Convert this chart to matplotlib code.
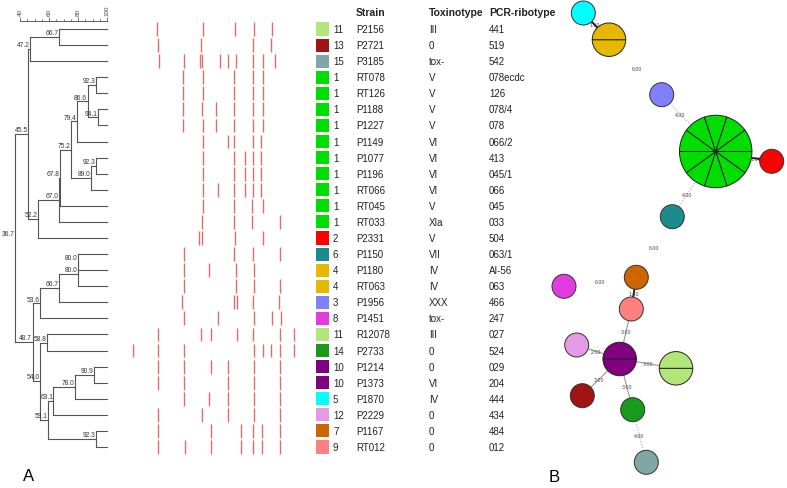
import numpy as np
import matplotlib.pyplot as plt
from matplotlib.patches import Rectangle, Circle, Wedge

plt.rcParams['font.family'] = ['Liberation Sans', 'DejaVu Sans']

# table data (top to bottom, dendrogram order)
groups = [11, 13, 15, 1, 1, 1, 1, 1, 1, 1, 1, 1, 1, 2, 6, 4, 4, 3, 8, 11, 14, 10, 10, 5, 12, 7, 9]
strains = ['P2156', 'P2721', 'P3185', 'RT078', 'RT126', 'P1188', 'P1227', 'P1149', 'P1077',
           'P1196', 'RT066', 'RT045', 'RT033', 'P2331', 'P1150', 'P1180', 'RT063', 'P1956',
           'P1451', 'R12078', 'P2733', 'P1214', 'P1373', 'P1870', 'P2229', 'P1167', 'RT012']
toxinotypes = ['III', '0', 'tox-', 'V', 'V', 'V', 'V', 'VI', 'VI', 'VI', 'VI', 'V', 'XIa', 'V',
               'VII', 'IV', 'IV', 'XXX', 'tox-', 'III', '0', '0', 'VI', 'IV', '0', '0', '0']
ribotypes = ['441', '519', '542', '078ecdc', '126', '078/4', '078', '066/2', '413', '045/1',
             '066', '045', '033', '504', '063/1', 'AI-56', '063', '466', '247', '027', '524',
             '029', '204', '444', '434', '484', '012']

group_colors = {1: '#00dd00', 2: '#ff0000', 3: '#8080ff', 4: '#e6b800', 5: '#00ffff',
                6: '#1a8c8c', 7: '#cc6600', 8: '#e03ce0', 9: '#ff8080', 10: '#800080',
                11: '#b3e67a', 12: '#e39be3', 13: '#a01414', 14: '#1a9a1a', 15: '#80a6a6'}

# dendrogram merges: (child a, child b, similarity %); new nodes numbered from 27
merges = [(0, 1, 66.7), (27, 2, 47.2), (3, 4, 92.3), (5, 6, 94.1), (29, 30, 86.6),
          (31, 7, 79.4), (8, 9, 92.3), (33, 10, 89.0), (32, 34, 75.2), (35, 11, 67.8),
          (36, 12, 67.0), (37, 13, 52.2), (28, 38, 45.5), (14, 15, 80.0), (40, 16, 80.0),
          (41, 17, 66.7), (42, 18, 53.6), (19, 20, 58.8), (21, 22, 90.9), (45, 23, 78.0),
          (46, 24, 63.1), (25, 26, 92.3), (47, 48, 59.1), (44, 49, 54.0), (43, 50, 48.7),
          (39, 51, 36.7)]

# band positions per lane (gel units)
bands = [
    [37, 82.7, 114.7, 134, 152],
    [37.7, 81.3, 133.3, 151.3],
    [38.7, 64.3, 80, 82.3, 99.7, 108, 116, 133, 142.7, 154.7],
    [63.3, 82.7, 114, 133.3, 142.7],
    [63.3, 82.7, 114, 133.3, 142.7],
    [63.3, 82, 95.7, 114, 133.3, 142.7],
    [63.3, 82.7, 95.7, 114, 133.3, 142.7],
    [82.7, 108.3, 114, 133.3, 141],
    [82.7, 114, 125.3, 133.3, 140.7],
    [82.7, 114, 125.3, 133.3, 140.7],
    [82.7, 97.7, 114, 125.3, 133.3, 140.7],
    [82.7, 114, 132, 142.7],
    [82, 114, 132, 160],
    [78.7, 82, 114.7, 142.7],
    [64.3, 113.7, 133.3, 160],
    [64.3, 89.3, 116, 133.7],
    [64.3, 116, 133.7, 160],
    [62.3, 113.7, 117.3, 132.7, 159.3],
    [64.3, 98, 134, 152, 160.7],
    [38.3, 81.3, 91.3, 117.3, 133.3, 160, 174.3],
    [12.7, 38, 64.3, 134, 142.7, 151.3, 160, 174.3],
    [38.3, 64.3, 90.7, 108, 134, 160],
    [38.3, 64.3, 108, 134, 160],
    [64.3, 89.3, 107.7, 133.7, 160],
    [38.3, 81.7, 108, 134, 160.3],
    [38.3, 90.7, 120.7, 133.3, 142, 160],
    [38.3, 64.7, 90.7, 120.7, 133.3, 142, 160],
]

# minimum spanning tree: node layout and edges (group a, group b, distance)
node_groups = [1, 2, 3, 4, 5, 6, 7, 8, 9, 10, 11, 12, 13, 14, 15]
node_x = [715.7, 771.7, 661.7, 609, 583.3, 672.3, 636.3, 564, 631.3, 619.7, 676, 576.7, 582.3, 632.7, 646.3]
node_y = [152.5, 162.3, 95.7, 40.7, 14, 217.7, 278.3, 287.3, 310, 360, 369.3, 346, 396.7, 410.7, 463.3]
edges = [(5, 4, 1.0), (4, 3, 6.0), (3, 1, 4.0), (1, 2, 1.0), (1, 6, 4.0), (6, 7, 6.0),
         (8, 7, 6.0), (7, 9, 1.0), (9, 10, 3.0), (10, 12, 2.0), (10, 11, 3.0),
         (10, 13, 3.0), (10, 14, 3.0), (14, 15, 4.0)]

W, H = 787, 489
fig = plt.figure(figsize=(W / 100, H / 100), dpi=100)


def box(x0, y0, x1, y1):
    return fig.add_axes([x0 / W, 1 - y1 / H, (x1 - x0) / W, (y1 - y0) / H])


n = len(strains)
step = 16.077
top, bottom = 30 - 0.5 * step, 30 + (n - 0.5) * step

# dendrogram
ax = box(20, top, 107, bottom)
ax.set_xlim(40, 100)
ax.set_ylim(n - 0.5, -0.5)
for s in ['bottom', 'left', 'right']:
    ax.spines[s].set_visible(False)
ax.spines['top'].set_linewidth(0.6)
ax.spines['top'].set_color('#444444')
ax.xaxis.tick_top()
ax.set_xticks([40, 60, 80, 100])
ax.set_xticks(np.arange(40, 101, 5), minor=True)
ax.set_yticks([])
ax.tick_params(which='major', length=3, width=0.5, labelsize=4.5, pad=1, labelrotation=90, colors='#444444')
ax.tick_params(which='minor', length=1.5, width=0.5, colors='#444444')

px = {i: 100 for i in range(n)}
py = {i: i for i in range(n)}
lc = '#555555'
for k, (a, b, s) in enumerate(merges):
    nid = n + k
    px[nid] = s
    py[nid] = (py[a] + py[b]) / 2
    ax.plot([s, s], [py[a], py[b]], color=lc, lw=0.8, clip_on=False)
    for c in (a, b):
        ax.plot([s, px[c]], [py[c], py[c]], color=lc, lw=0.8, clip_on=False)
    ax.text(s - 0.3, py[nid] - 0.05, f'{s:.1f}', ha='right', va='bottom', fontsize=4.8,
            color='#333333', clip_on=False)

# band patterns
axb = box(120, top, 300, bottom)
axb.set_xlim(0, 180)
axb.set_ylim(n - 0.5, -0.5)
axb.axis('off')
for i, row in enumerate(bands):
    axb.vlines(row, i - 0.43, i + 0.43, color='#d65454', lw=1.0, alpha=0.85)

# table
axt = box(300, top, 560, bottom)
axt.set_xlim(300, 560)
axt.set_ylim(n - 0.5, -0.5)
axt.axis('off')
fs = 7
hy = -1.08
axt.text(356, hy, 'Strain', fontsize=7.5, fontweight='bold', va='center', color='#222222', clip_on=False)
axt.text(429, hy, 'Toxinotype', fontsize=7.5, fontweight='bold', va='center', color='#222222', clip_on=False)
axt.text(489, hy, 'PCR-ribotype', fontsize=7.5, fontweight='bold', va='center', color='#222222', clip_on=False)
for i in range(n):
    axt.add_patch(Rectangle((316, i - 0.405), 13, 0.81, facecolor=group_colors[groups[i]],
                            edgecolor='none'))
    axt.text(333, i, str(groups[i]), fontsize=fs, va='center', color='#222222')
    axt.text(356, i, strains[i], fontsize=fs, va='center', color='#222222')
    axt.text(429, i, toxinotypes[i], fontsize=fs, va='center', color='#222222')
    axt.text(489, i, ribotypes[i], fontsize=fs, va='center', color='#222222')

# minimum spanning tree
axn = box(540, 0, 787, 489)
axn.set_xlim(540, 787)
axn.set_ylim(489, 0)
axn.axis('off')
counts = {g: groups.count(g) for g in node_groups}
radius = {g: 12 * counts[g] ** 0.48 for g in node_groups}
cx = dict(zip(node_groups, node_x))
cy = dict(zip(node_groups, node_y))

for a, b, d in edges:
    x0, y0, x1, y1 = cx[a], cy[a], cx[b], cy[b]
    L = np.hypot(x1 - x0, y1 - y0)
    ux, uy = (x1 - x0) / L, (y1 - y0) / L
    ex0, ey0 = x0 + ux * radius[a], y0 + uy * radius[a]
    ex1, ey1 = x1 - ux * radius[b], y1 - uy * radius[b]
    if d <= 1:
        axn.plot([x0, x1], [y0, y1], color='#111111', lw=1.3, zorder=1)
    elif d <= 3:
        axn.plot([x0, x1], [y0, y1], color='#999999', lw=0.8, zorder=1)
    elif d <= 4:
        axn.plot([x0, x1], [y0, y1], color='#aaaaaa', lw=0.8, ls=':', zorder=1)
    axn.text((ex0 + ex1) / 2, (ey0 + ey1) / 2, f'{d:.2f}', fontsize=3.8, color='#444444',
             ha='center', va='center', zorder=5)

for g in node_groups:
    r = radius[g]
    k = counts[g]
    if k == 1:
        axn.add_patch(Circle((cx[g], cy[g]), r, facecolor=group_colors[g], edgecolor='#333333',
                             lw=0.7, zorder=3))
    else:
        for j in range(k):
            axn.add_patch(Wedge((cx[g], cy[g]), r, 360 / k * j, 360 / k * (j + 1),
                                facecolor=group_colors[g], edgecolor='#222222', lw=0.7, zorder=3))

fig.text(29 / W, 1 - 477 / H, 'A', fontsize=12, ha='center', va='center')
fig.text(554 / W, 1 - 478 / H, 'B', fontsize=12, ha='center', va='center')

fig.savefig('out.png', dpi=100)
